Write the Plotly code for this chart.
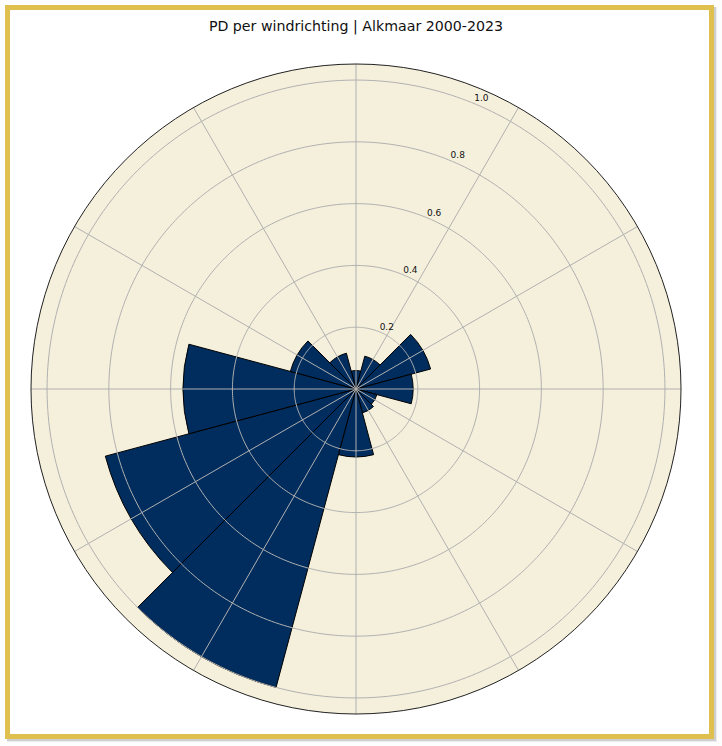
import plotly.graph_objects as go

# PD per wind direction sector (30 degree sectors)
directions = [0, 30, 60, 90, 120, 150, 180, 210, 240, 270, 300, 330]
pd_values = [0.06, 0.11, 0.25, 0.185, 0.07, 0.08, 0.22, 1.0, 0.84, 0.56, 0.22, 0.12]

radial_ticks = [0.2, 0.4, 0.6, 0.8, 1.0]
radial_labels = ["0.2", "0.4", "0.6", "0.8", "1.0"]
angle_labels = ["0", "30", "60", "90", "120", "150", "180", "210", "240", "270", "300", "330"]

TITLE = "PD per windrichting | Alkmaar 2000-2023"
R_MAX = 1.052
R_ANGLE_LABEL = 1.09
LABEL_THETA = 22.5
WIDTH, HEIGHT = 722, 746
FONT = "DejaVu Sans"
GRID = "#b0b0b0"


def px_rect(x0, y0, x1, y1, **kw):
    """Rectangle shape from window pixels."""
    return dict(type="rect", xref="paper", yref="paper", layer="below",
                x0=x0 / WIDTH, x1=x1 / WIDTH,
                y0=1 - y0 / HEIGHT, y1=1 - y1 / HEIGHT, **kw)


fig = go.Figure()

fig.add_trace(go.Barpolar(
    r=pd_values, theta=directions, width=30,
    marker=dict(color="#012d5e", line=dict(color="black", width=1)),
    hovertemplate="%{theta}: %{r}<extra></extra>",
    showlegend=False,
))

# grid sits on top of the bars in the original, plotly keeps its own below
for tick in radial_ticks:
    fig.add_trace(go.Scatterpolar(
        r=[tick] * 361, theta=list(range(361)), mode="lines",
        line=dict(color=GRID, width=1), hoverinfo="skip", showlegend=False,
    ))
for angle in directions:
    fig.add_trace(go.Scatterpolar(
        r=[0, R_MAX], theta=[angle, angle], mode="lines",
        line=dict(color=GRID, width=1), hoverinfo="skip", showlegend=False,
    ))

# radial labels sit up and right of the 22.5 degree line
fig.add_trace(go.Scatterpolar(
    r=radial_ticks, theta=[LABEL_THETA] * len(radial_ticks),
    mode="text", text=radial_labels, textposition="top right",
    textfont=dict(family=FONT, size=9, color="#111111"),
    hoverinfo="skip", showlegend=False,
))

# angle labels are centred on a circle outside the frame
fig.add_trace(go.Scatterpolar(
    r=[R_ANGLE_LABEL] * len(directions), theta=directions,
    mode="text", text=angle_labels, textposition="middle center",
    textfont=dict(family=FONT, size=9, color="#111111"),
    cliponaxis=False, hoverinfo="skip", showlegend=False,
))

shapes = [
    px_rect(7, 7, 717, 742, fillcolor="rgba(120,120,120,0.12)", line_width=0),
    px_rect(7, 7, 716, 741, fillcolor="rgba(120,120,120,0.25)", line_width=0),
    px_rect(7.5, 7.5, 711.5, 736.5, fillcolor="white", line=dict(color="#dfc04f", width=5)),
]

fig.update_layout(
    width=WIDTH, height=HEIGHT,
    margin=dict(l=0, r=0, t=0, b=0),
    paper_bgcolor="#fdfdfd",
    font=dict(family=FONT, color="black"),
    shapes=shapes,
    title=dict(text=TITLE, x=356 / WIDTH, xanchor="center", y=1 - 26 / HEIGHT, yanchor="middle",
               font=dict(family=FONT, size=14.2, color="#111111")),
    polar=dict(
        domain=dict(x=[31 / WIDTH, 681 / WIDTH], y=[1 - 714 / HEIGHT, 1 - 64 / HEIGHT]),
        bgcolor="#f5f0dc",
        angularaxis=dict(
            direction="clockwise", rotation=90,
            tickmode="array", tickvals=directions, showticklabels=False,
            ticks="", showgrid=False, showline=True, linecolor="#222222", linewidth=1,
        ),
        radialaxis=dict(
            range=[0, R_MAX], angle=67.5, showticklabels=False,
            ticks="", showgrid=False, showline=False,
        ),
        gridshape="circular",
    ),
)

fig.write_html("out.html", config={"displayModeBar": False},
               post_script="document.body.style.margin='0';")
